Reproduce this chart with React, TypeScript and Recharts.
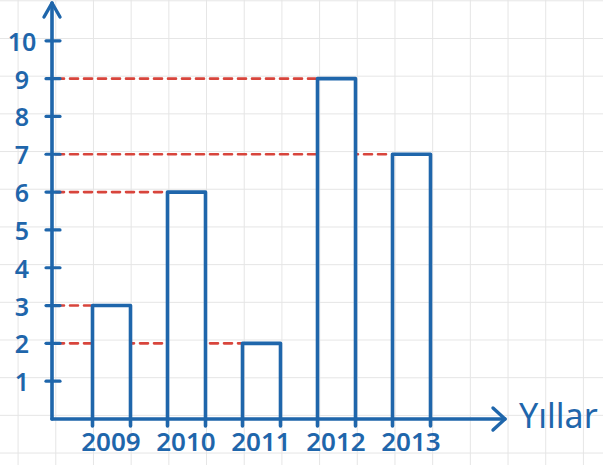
import React from 'react';
import { ComposedChart, Bar, XAxis, YAxis } from 'recharts';

const years = ['2009', '2010', '2011', '2012', '2013'];
const values = [3, 6, 2, 9, 7];
const yTicks = [1, 2, 3, 4, 5, 6, 7, 8, 9, 10];
const xAxisTitle = 'Yıllar';

const data = years.map((year, i) => ({ year, value: values[i] }));

const W = 603;
const H = 465;
const MARGIN = { top: 3, right: 98, bottom: 0, left: 0 };
const Y_AXIS_WIDTH = 52;
const X_AXIS_HEIGHT = 46;
const PLOT_LEFT = MARGIN.left + Y_AXIS_WIDTH;
const BAR_SIZE = 38;
const X_PADDING = { left: 21.5, right: 56.5 };
const GRID = 37.7;
const GRID_OX = 17.6;
const GRID_OY = 0.3;

const INK = '#1f66ab';
const RED = '#d8453c';
const GRID_COLOR = '#e5e5e5';
const FONT = '"Noto Sans", "DejaVu Sans", sans-serif';

const BarShape = (props: any) => {
  const { x, y, width, height } = props;
  const bottom = y + height;
  return (
    <g>
      <rect x={x} y={y} width={width} height={Math.max(0, height - 2)} fill="url(#paper)" />
      <path
        d={`M${x},${bottom + 7} L${x},${y} L${x + width},${y} L${x + width},${bottom + 7}`}
        fill="none"
        stroke={INK}
        strokeWidth={3.6}
        strokeLinejoin="round"
        strokeLinecap="round"
      />
    </g>
  );
};

const DashShape = (props: any) => {
  const { x, y } = props;
  if (x == null || y == null) return <g />;
  return (
    <line
      x1={PLOT_LEFT + 4}
      y1={y}
      x2={x - 2}
      y2={y}
      stroke={RED}
      strokeWidth={2.6}
      strokeDasharray="8 6"
      strokeLinecap="round"
    />
  );
};

const YTick = (props: any) => {
  const { x, y, payload } = props;
  return (
    <g>
      <line x1={x - 6} y1={y} x2={x + 8} y2={y} stroke={INK} strokeWidth={3.2} strokeLinecap="round" />
      <text
        x={x - 30}
        y={y}
        textAnchor="middle"
        dominantBaseline="central"
        fill={INK}
        fontFamily={FONT}
        fontWeight={600}
        fontSize={25}
      >
        {payload.value}
      </text>
    </g>
  );
};

const XTick = (props: any) => {
  const { x, y, payload } = props;
  return (
    <text
      x={x}
      y={y + 22}
      textAnchor="middle"
      dominantBaseline="central"
      fill={INK}
      fontFamily={FONT}
      fontWeight={600}
      fontSize={26}
    >
      {payload.value}
    </text>
  );
};

const YArrow = (props: any) => {
  const vb = props.viewBox;
  if (!vb) return null;
  const ax = vb.x + vb.width;
  const ay = vb.y;
  return (
    <path
      d={`M${ax - 8},${ay + 14} L${ax},${ay} L${ax + 8},${ay + 14}`}
      fill="none"
      stroke={INK}
      strokeWidth={3.4}
      strokeLinejoin="round"
      strokeLinecap="round"
    />
  );
};

const XArrow = (props: any) => {
  const vb = props.viewBox;
  if (!vb) return null;
  const ax = vb.x + vb.width;
  const ay = vb.y;
  return (
    <g>
      <path
        d={`M${ax - 12},${ay - 11} L${ax},${ay} L${ax - 12},${ay + 11}`}
        fill="none"
        stroke={INK}
        strokeWidth={3.4}
        strokeLinejoin="round"
        strokeLinecap="round"
      />
      <text
        x={ax + 14}
        y={ay - 4}
        dominantBaseline="central"
        fill={INK}
        fontFamily={FONT}
        fontSize={34}
      >
        {xAxisTitle}
      </text>
    </g>
  );
};

export default function App() {
  const paperStyle: React.CSSProperties = {
    position: 'absolute',
    left: 0,
    top: 0,
    width: W,
    height: H,
    backgroundColor: '#ffffff',
    backgroundImage: `linear-gradient(to right, ${GRID_COLOR} 1px, transparent 1px), linear-gradient(to bottom, ${GRID_COLOR} 1px, transparent 1px)`,
    backgroundSize: `${GRID}px ${GRID}px`,
    backgroundPosition: `${GRID_OX}px ${GRID_OY}px`,
  };
  return (
    <div style={paperStyle}>
      <ComposedChart width={W} height={H} data={data} margin={MARGIN}>
        <defs>
          <pattern
            id="paper"
            patternUnits="userSpaceOnUse"
            x={GRID_OX}
            y={GRID_OY}
            width={GRID}
            height={GRID}
          >
            <rect x={0} y={0} width={GRID} height={GRID} fill="#ffffff" />
            <line x1={0.5} y1={0} x2={0.5} y2={GRID} stroke={GRID_COLOR} strokeWidth={1} />
            <line x1={0} y1={0.5} x2={GRID} y2={0.5} stroke={GRID_COLOR} strokeWidth={1} />
          </pattern>
        </defs>
        <Bar
          xAxisId="dash"
          dataKey="value"
          barSize={BAR_SIZE}
          shape={DashShape}
          legendType="none"
          isAnimationActive={false}
        />
        <Bar
          xAxisId="main"
          dataKey="value"
          barSize={BAR_SIZE}
          shape={BarShape}
          isAnimationActive={false}
        />
        <XAxis xAxisId="dash" dataKey="year" orientation="top" height={0} hide padding={X_PADDING} />
        <XAxis
          xAxisId="main"
          dataKey="year"
          height={X_AXIS_HEIGHT}
          padding={X_PADDING}
          axisLine={{ stroke: INK, strokeWidth: 3.6, strokeLinecap: 'round' }}
          tickLine={false}
          tickSize={0}
          tickMargin={0}
          tick={XTick}
          interval={0}
          label={{ content: XArrow }}
        />
        <YAxis
          width={Y_AXIS_WIDTH}
          domain={[0, 11]}
          ticks={yTicks}
          interval={0}
          axisLine={{ stroke: INK, strokeWidth: 3.6, strokeLinecap: 'round' }}
          tickLine={false}
          tickSize={0}
          tickMargin={0}
          tick={YTick}
          label={{ content: YArrow }}
        />
      </ComposedChart>
    </div>
  );
}
